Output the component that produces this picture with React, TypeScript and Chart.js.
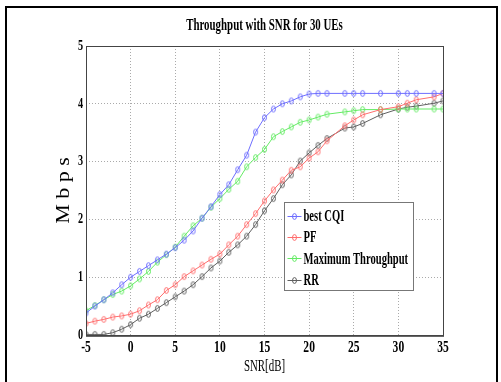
import React, { useEffect, useRef } from "react";
import { Chart, registerables } from "chart.js";

Chart.register(...registerables);

const snr = [-5, -4, -3, -2, -1, 0, 1, 2, 3, 4, 5, 6, 7, 8, 9, 10, 11, 12, 13, 14, 15, 16, 17, 18, 19, 20, 21, 22, 24, 25, 26, 28, 30, 31, 32, 34, 35];
const bestCQI = [0.38, 0.5, 0.61, 0.73, 0.87, 1.0, 1.1, 1.2, 1.3, 1.4, 1.51, 1.64, 1.8, 2.02, 2.22, 2.43, 2.6, 2.86, 3.11, 3.51, 3.76, 3.91, 4.0, 4.05, 4.12, 4.17, 4.18, 4.18, 4.18, 4.18, 4.18, 4.18, 4.18, 4.18, 4.18, 4.18, 4.18];
const pf = [0.2, 0.24, 0.27, 0.31, 0.33, 0.36, 0.42, 0.52, 0.61, 0.77, 0.87, 1.01, 1.11, 1.21, 1.31, 1.4, 1.56, 1.71, 1.91, 2.1, 2.32, 2.51, 2.68, 2.85, 2.91, 3.06, 3.17, 3.36, 3.62, 3.72, 3.81, 3.9, 3.95, 4.01, 4.07, 4.12, 4.18];
const maxThroughput = [0.42, 0.51, 0.61, 0.7, 0.76, 0.85, 0.97, 1.1, 1.26, 1.39, 1.52, 1.71, 1.89, 2.02, 2.21, 2.36, 2.52, 2.66, 2.91, 3.07, 3.21, 3.43, 3.52, 3.6, 3.68, 3.72, 3.77, 3.82, 3.86, 3.88, 3.9, 3.9, 3.91, 3.91, 3.91, 3.91, 3.91];
const rr = [0.01, 0.01, 0.01, 0.04, 0.1, 0.18, 0.29, 0.36, 0.46, 0.56, 0.66, 0.76, 0.87, 1.01, 1.16, 1.28, 1.43, 1.56, 1.71, 1.91, 2.15, 2.36, 2.6, 2.77, 3.01, 3.15, 3.28, 3.4, 3.58, 3.6, 3.66, 3.81, 3.91, 3.94, 3.96, 4.01, 4.05];

const seriesNames = ["best CQI", "PF", "Maximum Throughput", "RR"];
const seriesColors = ["rgb(110,110,255)", "rgb(255,110,110)", "rgb(100,235,100)", "rgb(95,95,95)"];
const xTicks = [-5, 0, 5, 10, 15, 20, 25, 30, 35];
const yTicks = [0, 1, 2, 3, 4, 5];
const chartTitle = "Throughput with SNR for 30 UEs";
const xTitle = "SNR[dB]";
const yTitle = "M b p s";

const FONT = "'Liberation Serif', 'Times New Roman', serif";

function makeMarker(color: string): HTMLCanvasElement {
  const c = document.createElement("canvas");
  c.width = 7;
  c.height = 9;
  const g = c.getContext("2d")!;
  g.strokeStyle = color;
  g.lineWidth = 1;
  g.beginPath();
  g.ellipse(3.5, 4.5, 2.0, 2.9, 0, 0, Math.PI * 2);
  g.stroke();
  return c;
}

function condText(ctx: CanvasRenderingContext2D, t: string, x: number, y: number, sx: number, align: CanvasTextAlign) {
  ctx.save();
  ctx.translate(x, y);
  ctx.scale(sx, 1);
  ctx.textAlign = align;
  ctx.fillText(t, 0, 0);
  ctx.restore();
}

export default function App() {
  const ref = useRef<HTMLCanvasElement>(null);
  useEffect(() => {
    const values = [bestCQI, pf, maxThroughput, rr];
    const markers = seriesColors.map(makeMarker);
    const decor = {
      id: "decor",
      afterDraw(chart: any) {
        const ctx = chart.ctx as CanvasRenderingContext2D;
        const a = chart.chartArea;
        const xs = chart.scales.x;
        const ys = chart.scales.y;
        ctx.save();
        ctx.strokeStyle = "#444";
        ctx.lineWidth = 1;
        ctx.strokeRect(Math.round(a.left) + 0.5, Math.round(a.top) + 0.5, Math.round(a.right - a.left), Math.round(a.bottom - a.top));
        ctx.strokeStyle = "#666";
        ctx.beginPath();
        ctx.moveTo(a.left, Math.round(a.bottom) + 1.5);
        ctx.lineTo(a.right + 1, Math.round(a.bottom) + 1.5);
        ctx.stroke();
        ctx.fillStyle = "#000";
        ctx.textBaseline = "middle";
        ctx.font = `bold 15px ${FONT}`;
        yTicks.forEach((v) => condText(ctx, String(v), a.left - 3, ys.getPixelForValue(v), 0.68, "right"));
        ctx.font = `bold 17px ${FONT}`;
        xTicks.forEach((v) => condText(ctx, String(v), xs.getPixelForValue(v), a.bottom + 13, 0.68, "center"));
        ctx.font = `bold 16px ${FONT}`;
        condText(ctx, chartTitle, (a.left + a.right) / 2, 26, 0.68, "center");
        ctx.font = `16px ${FONT}`;
        condText(ctx, xTitle, (a.left + a.right) / 2, a.bottom + 32, 0.68, "center");
        ctx.save();
        ctx.translate(64, (a.top + a.bottom) / 2);
        ctx.rotate(-Math.PI / 2);
        ctx.scale(1, 0.85);
        ctx.font = `22px ${FONT}`;
        ctx.textAlign = "center";
        ctx.fillText(yTitle, 0, 0);
        ctx.restore();
        const lx = 284.5, ly = 202.5, lw = 129, lh = 88;
        ctx.fillStyle = "#fff";
        ctx.fillRect(lx, ly, lw, lh);
        ctx.strokeStyle = "#777";
        ctx.strokeRect(lx, ly, lw, lh);
        ctx.font = `bold 16px ${FONT}`;
        seriesNames.forEach((name, i) => {
          const ry = ly + 13.5 + i * 21.2;
          ctx.strokeStyle = seriesColors[i];
          ctx.beginPath();
          ctx.moveTo(lx + 3, Math.round(ry) + 0.5);
          ctx.lineTo(lx + 17, Math.round(ry) + 0.5);
          ctx.stroke();
          ctx.drawImage(markers[i], lx + 10 - 3.5, Math.round(ry) - 4);
          ctx.fillStyle = "#000";
          condText(ctx, name, lx + 19, ry + 1, 0.66, "left");
        });
        ctx.restore();
      },
    };
    const chart = new Chart(ref.current!, {
      type: "line",
      data: {
        datasets: values.map((vals, i) => ({
          label: seriesNames[i],
          data: snr.map((x, j) => ({ x, y: vals[j] })),
          borderColor: seriesColors[i],
          backgroundColor: seriesColors[i],
          borderWidth: 1,
          pointStyle: markers[i] as any,
          pointRadius: 3,
          tension: 0,
        })),
      },
      options: {
        responsive: false,
        animation: false,
        events: [],
        layout: { padding: { left: 0, right: 58, top: 46, bottom: 0 } },
        plugins: { legend: { display: false }, title: { display: false }, tooltip: { enabled: false } },
        scales: {
          x: {
            type: "linear",
            min: -5,
            max: 35,
            ticks: { stepSize: 5, display: false },
            grid: { color: "#aaaaaa", drawTicks: false },
            border: { display: false, dash: [1, 2] },
            afterFit: (s: any) => { s.height = 47; },
          },
          y: {
            min: 0,
            max: 5,
            ticks: { stepSize: 1, display: false },
            grid: { color: "#aaaaaa", drawTicks: false },
            border: { display: false, dash: [1, 2] },
            afterFit: (s: any) => { s.width = 86; },
          },
        },
      },
      plugins: [decor],
    });
    return () => chart.destroy();
  }, []);
  return (
    <div style={{ position: "absolute", left: 0, top: 0, width: 501, height: 382, overflow: "hidden", background: "#fff" }}>
      <div style={{ position: "absolute", left: 5, top: 6, width: 493, height: 400, border: "2px solid #000", boxSizing: "border-box" }} />
      <canvas ref={ref} width={501} height={382} style={{ position: "absolute", left: 0, top: 0 }} />
    </div>
  );
}
